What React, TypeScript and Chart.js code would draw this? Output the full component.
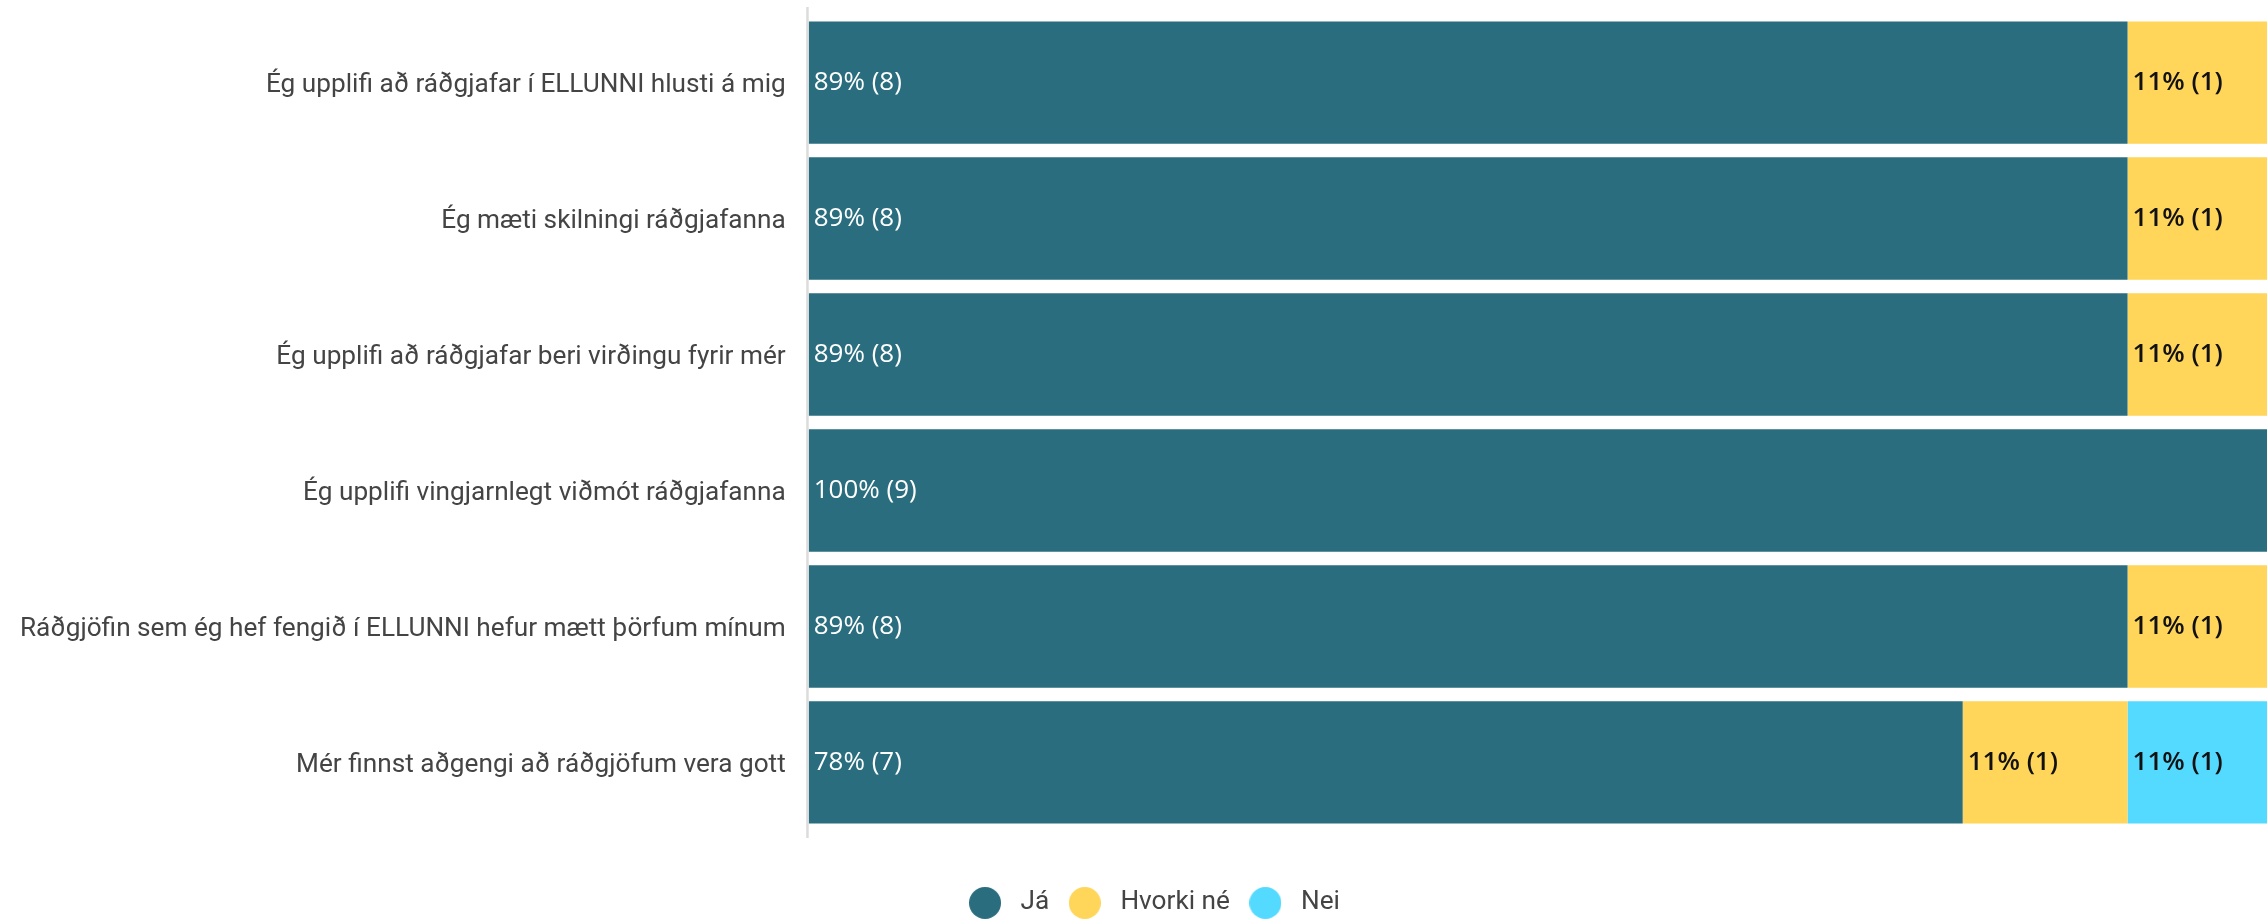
import React, { useEffect, useRef } from "react";
import { Chart, registerables } from "chart.js";

Chart.register(...registerables);

const categories = [
  "Ég upplifi að ráðgjafar í ELLUNNI hlusti á mig",
  "Ég mæti skilningi ráðgjafanna",
  "Ég upplifi að ráðgjafar beri virðingu fyrir mér",
  "Ég upplifi vingjarnlegt viðmót ráðgjafanna",
  "Ráðgjöfin sem ég hef fengið í ELLUNNI hefur mætt þörfum mínum",
  "Mér finnst aðgengi að ráðgjöfum vera gott",
];
const jaCounts = [8, 8, 8, 9, 8, 7];
const hvorkiCounts = [1, 1, 1, 0, 1, 1];
const neiCounts = [0, 0, 0, 0, 0, 1];
const totalRespondents = 9;
const seriesNames = ["Já", "Hvorki né", "Nei"];

const seriesColors = ["#2A6D7E", "#FFD55A", "#54DAFF"];
const valueLabelColors = ["#ffffff", "#111111", "#111111"];
const valueLabelWeights = ["400", "600", "600"];
const textColor = "#444444";

const CANVAS_W = 2310;
const CANVAS_H = 926;

function makeDot(color: string, d = 32) {
  const c = document.createElement("canvas");
  c.width = d;
  c.height = d;
  const g = c.getContext("2d")!;
  g.fillStyle = color;
  g.beginPath();
  g.arc(d / 2, d / 2, d / 2, 0, Math.PI * 2);
  g.fill();
  return c;
}

const axisLinePlugin = {
  id: "axisLine",
  afterLayout(chart: any) {
    if (chart.legend) {
      chart.legend.left += 10;
    }
  },
  beforeDatasetsDraw(chart: any) {
    const { ctx, chartArea } = chart;
    ctx.save();
    ctx.fillStyle = "#dcdcdc";
    ctx.fillRect(chartArea.left - 2.5, chartArea.top - 7.6, 2.5, chartArea.bottom - chartArea.top + 15.2);
    ctx.restore();
  },
};

const valueLabelPlugin = {
  id: "valueLabels",
  afterDatasetsDraw(chart: any) {
    const { ctx } = chart;
    chart.data.datasets.forEach((ds: any, di: number) => {
      const meta = chart.getDatasetMeta(di);
      meta.data.forEach((bar: any, i: number) => {
        const v = ds.data[i];
        if (!v) return;
        const pct = Math.round((v / totalRespondents) * 100);
        const { x, y, base } = bar.getProps(["x", "y", "base"], true);
        ctx.save();
        ctx.font = `${valueLabelWeights[di]} 26px "Open Sans"`;
        ctx.fillStyle = valueLabelColors[di];
        ctx.textAlign = "left";
        ctx.textBaseline = "middle";
        ctx.fillText(`${pct}% (${v})`, Math.min(x, base) + 5, y);
        ctx.restore();
      });
    });
  },
};

export default function App() {
  const ref = useRef<HTMLCanvasElement | null>(null);

  useEffect(() => {
    if (!ref.current) return;
    const dots = seriesColors.map((c) => makeDot(c, 32));
    const countSeries = [jaCounts, hvorkiCounts, neiCounts];
    const chart = new Chart(ref.current, {
      type: "bar",
      data: {
        labels: categories,
        datasets: countSeries.map((data, i) => ({
          label: seriesNames[i],
          data,
          backgroundColor: seriesColors[i],
          borderWidth: 0,
          barPercentage: 0.9,
          categoryPercentage: 1.0,
        })),
      },
      options: {
        indexAxis: "y",
        responsive: false,
        animation: false,
        devicePixelRatio: 1,
        layout: { padding: { top: 14.6, right: 17.6, bottom: 0, left: 0 } },
        scales: {
          x: {
            stacked: true,
            min: 0,
            max: totalRespondents,
            display: true,
            ticks: { display: false },
            grid: { display: false, drawTicks: false },
            border: { display: false },
            afterFit: (s: any) => {
              s.height = 46.4;
            },
          },
          y: {
            stacked: true,
            grid: { display: false, drawTicks: false },
            border: { display: false },
            ticks: {
              color: textColor,
              font: { family: "Roboto", size: 26.2 },
              padding: 23,
              labelOffset: 3,
            },
            afterFit: (s: any) => {
              s.width = 808.7;
              s.paddingTop = 0;
              s.paddingBottom = 0;
            },
          },
        },
        plugins: {
          tooltip: { enabled: false },
          legend: {
            position: "bottom",
            labels: {
              usePointStyle: true,
              pointStyleWidth: 45,
              boxHeight: 23,
              padding: 13,
              color: textColor,
              font: { family: "Roboto", size: 26.2 },
              generateLabels: (c: any) =>
                c.data.datasets.map((ds: any, i: number) => ({
                  text: ds.label,
                  fillStyle: seriesColors[i],
                  strokeStyle: seriesColors[i],
                  lineWidth: 0,
                  pointStyle: dots[i],
                  hidden: false,
                  datasetIndex: i,
                  fontColor: textColor,
                })),
            },
          },
        },
      },
      plugins: [axisLinePlugin, valueLabelPlugin],
    });
    return () => chart.destroy();
  }, []);

  return (
    <div
      style={{
        position: "fixed",
        left: 0,
        top: 0,
        width: "100vw",
        height: "100vh",
        overflow: "hidden",
        background: "#ffffff",
      }}
    >
      <canvas
        ref={ref}
        width={CANVAS_W}
        height={CANVAS_H}
        style={{ position: "absolute", left: 0, top: 0, width: CANVAS_W, height: CANVAS_H }}
      />
    </div>
  );
}
